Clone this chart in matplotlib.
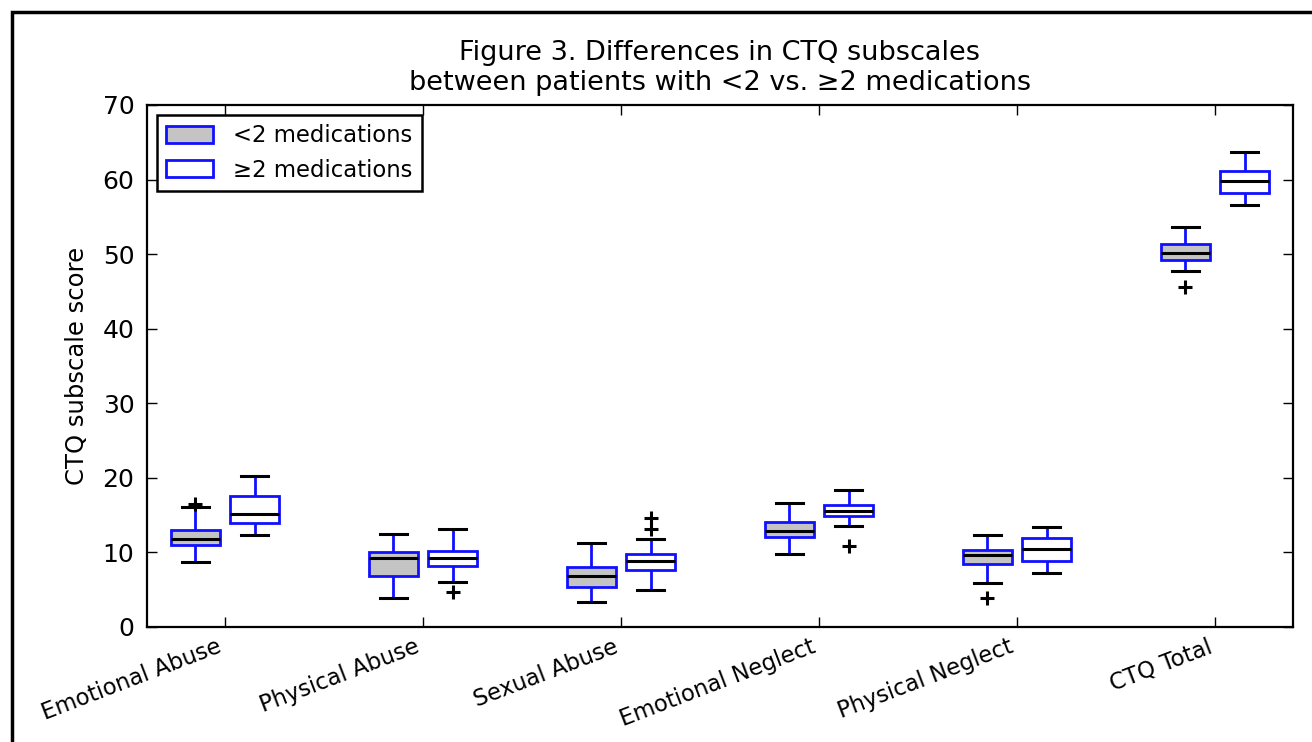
import matplotlib
matplotlib.use("Agg")
import matplotlib.pyplot as plt
from matplotlib.patches import Patch, Rectangle

# CTQ subscale summary statistics per medication group
categories = ["Emotional Abuse", "Physical Abuse", "Sexual Abuse",
              "Emotional Neglect", "Physical Neglect", "CTQ Total"]

# <2 medications
low_whislo = [8.7, 3.9, 3.3, 9.8, 5.9, 47.8]
low_q1 = [11.0, 6.8, 5.4, 12.1, 8.4, 49.2]
low_med = [11.8, 9.2, 6.8, 12.9, 9.7, 50.2]
low_q3 = [13.0, 10.0, 8.0, 14.1, 10.3, 51.4]
low_whishi = [16.1, 12.5, 11.2, 16.6, 12.4, 53.6]
low_fliers = [[16.5], [], [], [], [3.9], [45.6]]

# >=2 medications
high_whislo = [12.3, 6.0, 5.0, 13.6, 7.3, 56.6]
high_q1 = [14.0, 8.2, 7.6, 14.9, 8.8, 58.2]
high_med = [15.2, 9.2, 8.8, 15.6, 10.5, 59.8]
high_q3 = [17.6, 10.2, 9.8, 16.3, 12.0, 61.2]
high_whishi = [20.3, 13.1, 11.8, 18.4, 13.4, 63.7]
high_fliers = [[], [4.7], [13.2, 14.6], [10.9], [], []]


def make_stats(lo, q1, med, q3, hi, fliers):
    return [dict(whislo=a, q1=b, med=c, q3=d, whishi=e, fliers=f)
            for a, b, c, d, e, f in zip(lo, q1, med, q3, hi, fliers)]


low_stats = make_stats(low_whislo, low_q1, low_med, low_q3, low_whishi, low_fliers)
high_stats = make_stats(high_whislo, high_q1, high_med, high_q3, high_whishi, high_fliers)

fig = plt.figure(figsize=(13.12, 7.42), dpi=100)
ax = fig.add_axes([0.112, 0.155, 0.8735, 0.7035])

blue = "#1010ff"
common = dict(widths=0.25, capwidths=0.135, patch_artist=True,
              whiskerprops=dict(color=blue, lw=2, linestyle=(0, (9, 7))),
              capprops=dict(color="black", lw=2.2),
              medianprops=dict(color="black", lw=2.2),
              flierprops=dict(marker="+", markersize=10, markeredgewidth=2.2,
                              markeredgecolor="black"))

positions = range(1, len(categories) + 1)
ax.bxp(low_stats, positions=[p - 0.15 for p in positions],
       boxprops=dict(facecolor="#c4c4c4", edgecolor=blue, lw=2), **common)
ax.bxp(high_stats, positions=[p + 0.15 for p in positions],
       boxprops=dict(facecolor="white", edgecolor=blue, lw=2), **common)

ax.set_xlim(0.606, 6.394)
ax.set_ylim(0, 70)
ax.set_xticks(list(positions))
ax.set_xticklabels(categories, rotation=21, ha="right", fontsize=16.3)
ax.set_yticks(range(0, 71, 10))
ax.tick_params(axis="y", labelsize=18, pad=9)
ax.tick_params(axis="x", pad=6)
ax.tick_params(direction="in", top=True, right=True, length=7, width=1)
for s in ax.spines.values():
    s.set_linewidth(1.6)

ax.set_ylabel("CTQ subscale score", fontsize=17.5, labelpad=10)
ax.set_title("Figure 3. Differences in CTQ subscales\nbetween patients with <2 vs. \u22652 medications",
             fontsize=19.5, pad=11)

handles = [Patch(facecolor="#c4c4c4", edgecolor=blue, lw=2),
           Patch(facecolor="white", edgecolor=blue, lw=2)]
leg = ax.legend(handles, ["<2 medications", "\u22652 medications"], loc="upper left",
                fontsize=16.4, fancybox=False, framealpha=1, handlelength=2.06,
                handleheight=0.75, handletextpad=0.88, labelspacing=0.5,
                borderpad=0.4, borderaxespad=0.45)
leg.get_frame().set_edgecolor("black")
leg.get_frame().set_linewidth(1.8)

# outer frame around the figure
fig.patches.append(Rectangle((12 / 1312, -0.1), 2, 1.1 - 12 / 742,
                             transform=fig.transFigure, fill=False,
                             lw=2.5, edgecolor="black", clip_on=False))

fig.savefig("out.png", dpi=100)
